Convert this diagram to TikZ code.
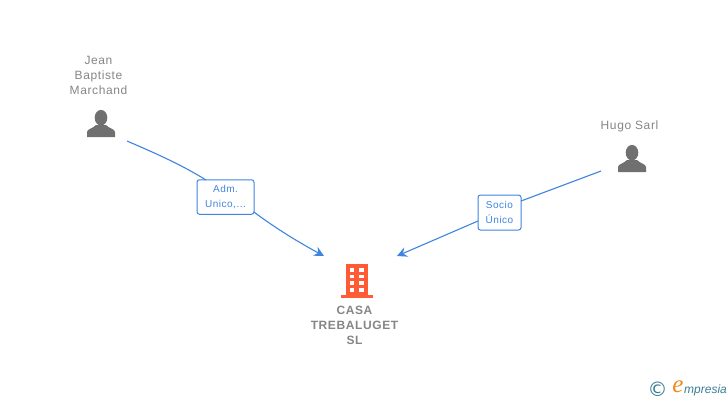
\documentclass[tikz,border=0pt]{standalone}
\usepackage{fontspec}
\setmainfont{Liberation Sans}
\newfontfamily\spaced[LetterSpace=5]{Liberation Sans}
\newfontfamily\logoserif{Liberation Serif}
\newfontfamily\logosym{DejaVu Sans}
\usetikzlibrary{arrows.meta}
\definecolor{linkblue}{HTML}{3F85E0}
\definecolor{labelgrey}{HTML}{868686}
\definecolor{icongrey}{HTML}{707070}
\definecolor{bldg}{HTML}{FF5C35}
\definecolor{logoteal}{HTML}{3A7F94}
\definecolor{logoorange}{HTML}{F08A1D}
\tikzset{
  x=1pt,y=-1pt,
  person/.style={font=\fontsize{12}{15}\selectfont\spaced,text=labelgrey,align=center,inner sep=0pt},
  company/.style={font=\fontsize{12}{15}\selectfont\spaced\bfseries,text=labelgrey,align=center,inner sep=0pt},
  rolebox/.style={draw=linkblue,line width=1pt,fill=white,rounded corners=2.5pt,text=linkblue,
    font=\fontsize{10}{15}\selectfont\spaced,align=center,inner sep=0pt},
  link/.style={draw=linkblue,line width=1.1pt},
  linkarrow/.style={link,-{Stealth[length=10pt,width=10pt,inset=3.5pt]}}
}
\newcommand{\personicon}[2]{%
  \begin{scope}[shift={(#1,#2)}]
    \fill[icongrey] (0,-19.3) ellipse [x radius=6.3, y radius=7.8];
    \fill[icongrey] (-14,0) -- (-14,-5) .. controls (-14,-8) and (-8,-8.5) .. (-5,-12)
      -- (5,-12) .. controls (8,-8.5) and (14,-8) .. (14,-5) -- (14,0) -- cycle;
  \end{scope}}
\begin{document}
\begin{tikzpicture}
\useasboundingbox (0,0) rectangle (728,400);
\fill[white] (0,0) rectangle (728,400);

% persons
\node[person] (jean) at (98.5,75.5) {Jean\\Baptiste\\Marchand};
\personicon{101}{137}
\node[person] (hugo) at (629.5,126.5) {Hugo Sarl};
\personicon{632}{172}

% connector ends
\coordinate (jeanout) at (127,141);
\coordinate (hugoout) at (601,171);
\coordinate (tipa) at (324,256);
\coordinate (tipb) at (397,256);

% role boxes
\node[rolebox,minimum width=57pt,minimum height=34.5pt] (adm) at (225.5,197) {Adm.\\Unico,...};
\node[rolebox,minimum width=43pt,minimum height=35pt] (socio) at (499.5,212.5) {Socio\\Único};

% connectors
\draw[link] (jeanout) .. controls (155,153) and (182,165) .. (206,180);
\draw[linkarrow] (254,212) .. controls (275,228) and (300,243) .. (tipa);
\draw[link] (hugoout) -- (521,201);
\draw[linkarrow] (478,221) -- (tipb);

% company
\fill[bldg] (346,264) rectangle (368.3,295.5);
\fill[bldg] (341.3,295.3) rectangle (372.8,297.8);
\foreach \yy in {267.7,274.5,281.2,288}{
  \fill[white] (349.7,\yy) rectangle (354.4,\yy+3.9);
  \fill[white] (359.4,\yy) rectangle (364,\yy+3.9);
}
\node[company] (casa) at (354.5,325) {CASA\\TREBALUGET\\SL};

% logo
\node[inner sep=0pt,text=logoteal,font=\fontsize{20}{20}\selectfont\logosym] (copy) at (657.5,389) {©};
\node[inner sep=0pt,text=logoorange,font=\fontsize{25}{25}\selectfont\logoserif\itshape] (elogo) at (678,386.5) {e};
\node[inner sep=0pt,text=logoteal,font=\fontsize{12}{13}\selectfont\itshape,anchor=base west] (mpr) at (684,393) {mpresia};
\end{tikzpicture}
\end{document}
